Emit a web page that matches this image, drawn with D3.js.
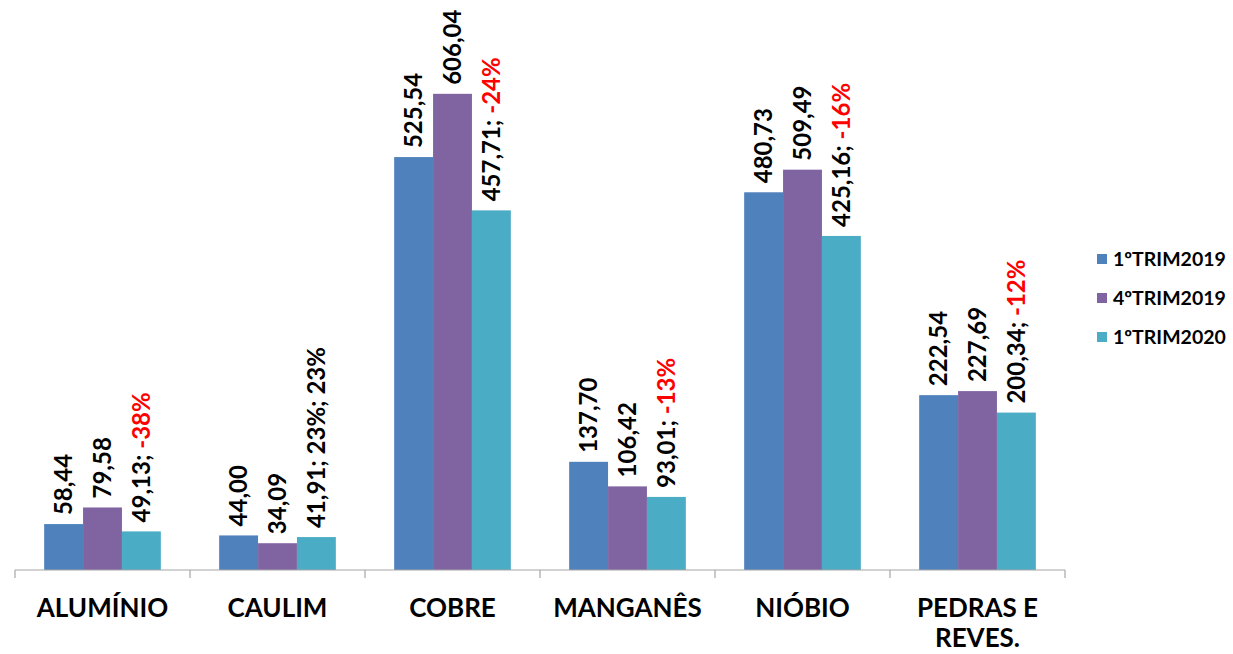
<!DOCTYPE html>
<html>
<head>
<meta charset="utf-8">
<script src="https://cdn.jsdelivr.net/npm/d3@7"></script>
<style>
  body { margin: 0; background: #fff; }
  svg text { font-family: Lato, "Open Sans", sans-serif; font-weight: bold; }
</style>
</head>
<body>
<svg id="chart" width="1233" height="654"></svg>
<script>
// categories and series values
var categories = ["ALUMÍNIO", "CAULIM", "COBRE", "MANGANÊS", "NIÓBIO", "PEDRAS E|REVES."];
var seriesNames = ["1ºTRIM2019", "4ºTRIM2019", "1ºTRIM2020"];
var trim1_2019 = [58.44, 44.00, 525.54, 137.70, 480.73, 222.54];
var trim4_2019 = [79.58, 34.09, 606.04, 106.42, 509.49, 227.69];
var trim1_2020 = [49.13, 41.91, 457.71, 93.01, 425.16, 200.34];
// variation text shown after the last series value
var variation = ["-38%", "23%; 23%", "-24%", "-13%", "-16%", "-12%"];
var variationRed = [true, false, true, true, true, true];

var colors = ["#4F81BD", "#8064A2", "#4BACC6"];

var svg = d3.select("#chart");

var x = d3.scaleBand()
    .domain(categories)
    .range([15, 1065]);

var x1 = d3.scaleBand()
    .domain([0, 1, 2])
    .range([0, x.bandwidth()])
    .paddingOuter(0.75)
    .paddingInner(0);

var y = d3.scaleLinear()
    .domain([0, 700])
    .range([570, 20]);

var fmt = function(v) { return v.toFixed(2).replace(".", ","); };

var data = [];
categories.forEach(function(c, i) {
  [trim1_2019, trim4_2019, trim1_2020].forEach(function(s, j) {
    data.push({cat: c, idx: i, s: j, v: s[i]});
  });
});

// bars
svg.append("g").selectAll("rect")
    .data(data)
  .enter().append("rect")
    .attr("x", function(d) { return x(d.cat) + x1(d.s); })
    .attr("y", function(d) { return y(d.v); })
    .attr("width", x1.bandwidth())
    .attr("height", function(d) { return y(0) - y(d.v); })
    .attr("fill", function(d) { return colors[d.s]; });

// axis line with separators between categories
var axis = svg.append("g").attr("transform", "translate(0," + y(0) + ")");
axis.append("line")
    .attr("x1", x.range()[0]).attr("x2", x.range()[1])
    .attr("stroke", "#A6A6A6").attr("stroke-width", 1.2);
var seps = categories.map(function(c) { return x(c); }).concat([x.range()[1]]);
axis.selectAll("line.sep")
    .data(seps)
  .enter().append("line")
    .attr("class", "sep")
    .attr("x1", function(d) { return d; }).attr("x2", function(d) { return d; })
    .attr("y1", 0).attr("y2", 8)
    .attr("stroke", "#A6A6A6").attr("stroke-width", 1.2);

// category labels
var catLabels = svg.append("g").selectAll("text")
    .data(categories)
  .enter().append("text")
    .attr("text-anchor", "middle")
    .attr("font-size", "26px")
    .attr("fill", "#000")
    .attr("transform", function(d) { return "translate(" + (x(d) + x.bandwidth() / 2) + ",617)"; });
catLabels.each(function(d) {
  var parts = d.split("|");
  var t = d3.select(this);
  parts.forEach(function(p, k) {
    t.append("tspan").attr("x", 0).attr("dy", k === 0 ? 0 : 30).text(p);
  });
});

// value labels, rotated
var labels = svg.append("g").selectAll("text")
    .data(data)
  .enter().append("text")
    .attr("font-size", "24px")
    .attr("fill", "#000")
    .attr("transform", function(d) {
      var cx = x(d.cat) + x1(d.s) + x1.bandwidth() / 2 + 8.5;
      return "translate(" + cx + "," + (y(d.v) - 9) + ") rotate(-90)";
    });
labels.each(function(d) {
  var t = d3.select(this);
  t.append("tspan").text(fmt(d.v));
  if (d.s === 2) {
    t.append("tspan").text("; ");
    t.append("tspan")
      .attr("fill", variationRed[d.idx] ? "#FF0000" : "#000")
      .text(variation[d.idx]);
  }
});

// legend
var legend = svg.append("g").selectAll("g")
    .data(seriesNames)
  .enter().append("g")
    .attr("transform", function(d, i) { return "translate(1097," + (254 + i * 39) + ")"; });
legend.append("rect")
    .attr("width", 10).attr("height", 10)
    .attr("fill", function(d, i) { return colors[i]; });
legend.append("text")
    .attr("x", 16).attr("y", 12)
    .attr("font-size", "19.5px")
    .attr("fill", "#000")
    .text(function(d) { return d; });
</script>
</body>
</html>
